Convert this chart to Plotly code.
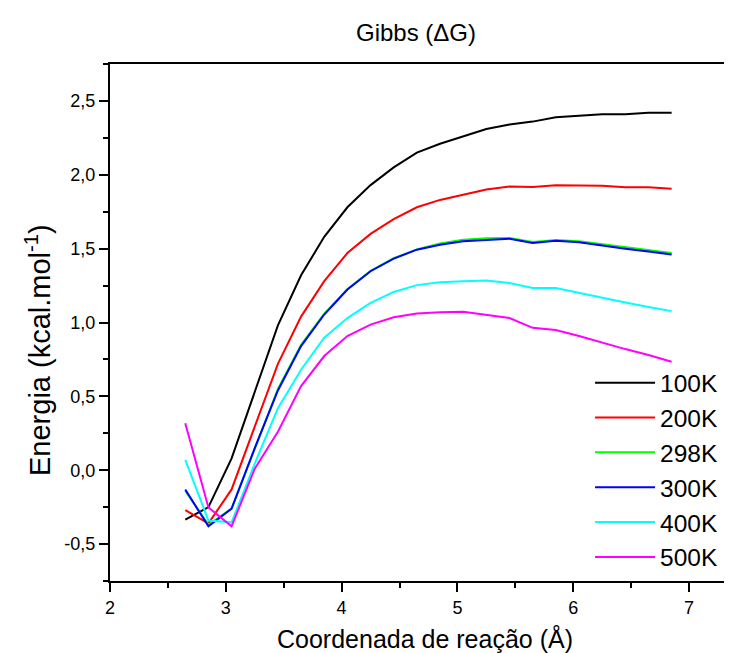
import plotly.graph_objects as go

coord = [2.65, 2.85, 3.05, 3.25, 3.45, 3.65, 3.85, 4.05, 4.25, 4.45, 4.65,
         4.85, 5.05, 5.25, 5.45, 5.65, 5.85, 6.05, 6.25, 6.45, 6.65, 6.85]

g100 = [-0.335, -0.25, 0.08, 0.53, 0.98, 1.32, 1.58, 1.78, 1.93, 2.05, 2.15,
        2.21, 2.26, 2.31, 2.34, 2.36, 2.39, 2.40, 2.41, 2.41, 2.42, 2.42]
g200 = [-0.27, -0.36, -0.13, 0.30, 0.72, 1.04, 1.28, 1.47, 1.60, 1.70, 1.78,
        1.83, 1.865, 1.90, 1.92, 1.917, 1.93, 1.93, 1.925, 1.915, 1.915, 1.905]
g298 = [-0.14, -0.37, -0.26, 0.15, 0.55, 0.85, 1.06, 1.225, 1.35, 1.435, 1.495,
        1.535, 1.56, 1.57, 1.572, 1.545, 1.558, 1.55, 1.53, 1.51, 1.49, 1.47]
g300 = [-0.13, -0.38, -0.26, 0.15, 0.54, 0.84, 1.054, 1.223, 1.347, 1.432, 1.493,
        1.527, 1.55, 1.56, 1.567, 1.539, 1.554, 1.543, 1.52, 1.50, 1.48, 1.46]
g400 = [0.07, -0.34, -0.353, 0.045, 0.42, 0.68, 0.897, 1.03, 1.133, 1.207, 1.253,
        1.273, 1.28, 1.284, 1.268, 1.234, 1.234, 1.20, 1.167, 1.135, 1.105, 1.077]
g500 = [0.318, -0.252, -0.38, 0.01, 0.26, 0.57, 0.773, 0.908, 0.986, 1.036, 1.061,
        1.07, 1.072, 1.05, 1.03, 0.964, 0.949, 0.908, 0.863, 0.82, 0.78, 0.734]

series_names = ["100K", "200K", "298K", "300K", "400K", "500K"]
series_values = [g100, g200, g298, g300, g400, g500]
series_colors = ["#000000", "#FF0000", "#00FF00", "#0000FF", "#00FFFF", "#FF00FF"]

x_ticks = [2, 3, 4, 5, 6, 7]
y_ticks = [-0.5, 0.0, 0.5, 1.0, 1.5, 2.0, 2.5]

FONT = "Arial, Liberation Sans, sans-serif"

fig = go.Figure()
for name, vals, col in zip(series_names, series_values, series_colors):
    fig.add_trace(go.Scatter(x=coord, y=vals, mode="lines", name=name,
                             line=dict(color=col, width=2)))

fig.update_layout(
    width=732, height=653,
    margin=dict(l=102, r=0, t=56, b=80),
    paper_bgcolor="white", plot_bgcolor="white",
    separators=", ",
    font=dict(family=FONT, color="black"),
    title=dict(text="Gibbs (\u0394G)", x=408 / 732, xref="container", xanchor="center",
               y=1 - 25 / 653, yanchor="middle", yref="container", automargin=False,
               font=dict(size=24, family=FONT, color="black")),
    legend=dict(x=0.762, y=0.427, xanchor="left", yanchor="top",
                font=dict(size=24.5, family=FONT, color="black"),
                bgcolor="rgba(0,0,0,0)", borderwidth=0,
                itemwidth=60, tracegroupgap=0),
    showlegend=True,
    annotations=[dict(text="Energia (kcal.mol<sup>-1</sup>)", textangle=-90,
                      xref="paper", yref="paper", x=(30 - 102) / 630, y=(573 - 342) / 517,
                      xanchor="center", yanchor="middle", showarrow=False,
                      font=dict(size=29, family=FONT, color="black"))],
)

fig.update_xaxes(
    range=[2, 2 + 630 / 115.8], tickvals=x_ticks, ticktext=[str(v) for v in x_ticks],
    automargin=False,
    showgrid=False, zeroline=False,
    showline=True, linecolor="black", linewidth=2, mirror=True,
    ticks="outside", ticklen=9, tickwidth=2, tickcolor="black",
    minor=dict(ticks="outside", ticklen=5, tickwidth=2, tickcolor="black", dtick=0.5, tick0=2),
    tickfont=dict(size=18, family=FONT, color="black"),
    title=dict(text="Coordenada de reação (Å)", standoff=14,
               font=dict(size=25, family=FONT, color="black")),
)
fig.update_yaxes(
    range=[-0.75, 2.75], tickvals=y_ticks,
    ticktext=[f"{v:.1f}".replace(".", ",") for v in y_ticks],
    automargin=False,
    showgrid=False, zeroline=False,
    showline=True, linecolor="black", linewidth=2, mirror=False,
    ticks="outside", ticklen=9, tickwidth=2, tickcolor="black",
    minor=dict(ticks="outside", ticklen=5, tickwidth=2, tickcolor="black", dtick=0.25, tick0=0),
    tickfont=dict(size=18, family=FONT, color="black"),
)

fig.write_html("out.html")
